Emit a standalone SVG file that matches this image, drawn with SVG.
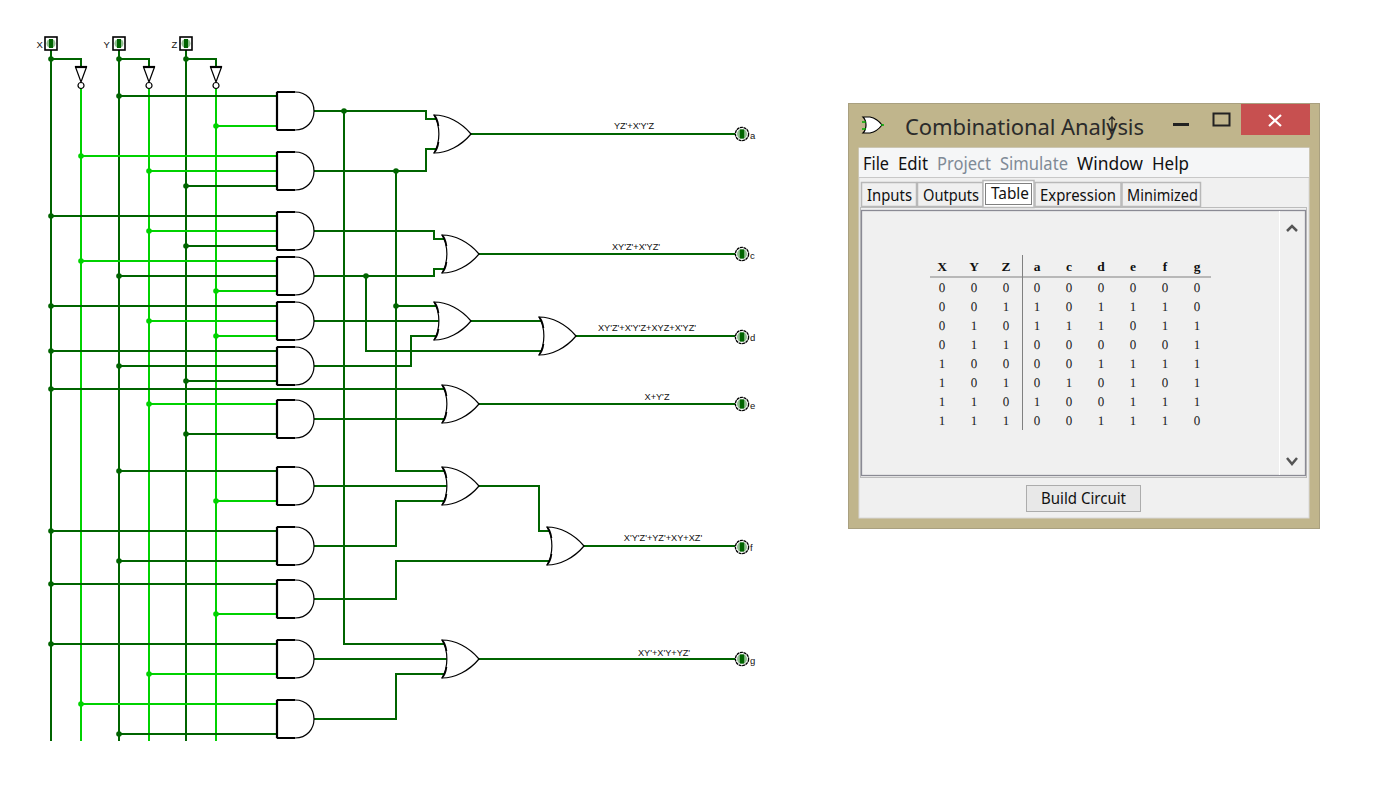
<svg xmlns="http://www.w3.org/2000/svg" width="1384" height="788" viewBox="0 0 1384 788">
<style>
.d{fill:none;stroke:#006400;stroke-width:2}
.l{fill:none;stroke:#00d200;stroke-width:2}
.jd{fill:#006400}
.jl{fill:#00d200}
.gate{fill:#fff;stroke:#000;stroke-width:1.2}
.edge{fill:none;stroke:#000;stroke-width:2.2}
.edge2{fill:none;stroke:#000;stroke-width:1.6}
.lbl{font-family:"Liberation Sans",Arial,sans-serif;font-size:9.200px;fill:#111;text-anchor:middle}
.pinl{font-family:"Liberation Sans",Arial,sans-serif;font-size:9.500px;fill:#111}
.ui{font-family:"Noto Sans","Open Sans",sans-serif;fill:#111}
.tab{font-size:16px;text-anchor:middle}
.menu{font-size:17.500px}
.off{fill:#7f8a96}
.tabbg{fill:#f0f0f0;stroke:#b8b8b8;stroke-width:1.500}
.th{font-family:"Liberation Serif",serif;font-weight:bold;font-size:13.500px;text-anchor:middle;fill:#111}
.td{font-family:"Liberation Serif",serif;font-size:13px;text-anchor:middle;fill:#222;stroke:#222;stroke-width:.05px;text-rendering:geometricPrecision}
</style>
<defs>
<g id="and"><path class="gate" d="M0,-19H18C30,-19 37,-10 37,0C37,10 30,19 18,19H0Z"/><path class="edge" d="M0,-19V19M0,-19H18M0,19H18"/></g>
<g id="or"><path class="gate" d="M-37,-19C-24,-19 -10,-12 0,0C-10,12 -24,19 -37,19C-30.500,8 -30.500,-8 -37,-19Z"/><path class="edge2" d="M-37,-19C-34,-16 -33,-12 -32.500,-8M-32.500,8C-33,12 -34,16 -37,19"/></g>
<g id="not"><path class="gate" d="M-5.500,-19L0,-4L5.500,-19Z"/><path class="edge" d="M-6,-19H6"/><circle class="gate" cx="0" cy="-0.500" r="3"/></g>
<g id="inp"><rect x="-6" y="-7" width="12" height="13" fill="#fff" stroke="#000" stroke-width="1.600"/><ellipse cx="0" cy="-0.500" rx="4.500" ry="4.500" fill="#8fbf8f"/><rect x="-2" y="-5" width="4" height="9" fill="#006400"/></g>
<g id="outp"><circle r="6.600" fill="#fff" stroke="#000" stroke-width="1.300" stroke-dasharray="3 .6"/><circle r="5" fill="#8fbf8f"/><rect x="-2.200" y="-4.500" width="4.400" height="9" fill="#006400"/></g>
</defs>

<g id="wires-and-connectors">
<path class="d" d="M51,50V741M119,50V741M186,50V741M51,59H81V67M119,59H149V67M186,59H216V67"/>
<path class="l" d="M81,88V741M149,88V741M216,88V741"/>
<path class="d" d="M119,96H277M186,186H277M51,216H277M186,246H277M119,276H277M51,306H277M51,351H277M119,366H277M186,381H277M186,434H277M119,471H277M51,531H277M119,561H277M51,584H277M51,644H277M119,734H277"/>
<path class="l" d="M216,126H277M81,156H277M149,171H277M149,231H277M81,261H277M216,291H277M149,321H277M216,336H277M149,404H277M216,501H277M216,614H277M149,674H277M81,704H277"/>
<path class="d" d="M51,389H444"/>
<path class="d" d="M313,111H426V119H436M313,171H426V149H436M344,111V644H444M396,171V471H444"/>
<path class="d" d="M470,134H735"/>
<path class="d" d="M313,231H434V239H444M313,276H434V269H444M478,254H735"/>
<path class="d" d="M366,276V351H541M396,306H436M313,321H439M313,366H411V336H436M470,321H541M575,336H735"/>
<path class="d" d="M313,419H444M478,404H735"/>
<path class="d" d="M313,486H447M313,546H396V501H444M478,486H539V531H549M313,599H396V561H549M583,546H735"/>
<path class="d" d="M313,659H447M313,719H396V674H444M478,659H735"/>
<g class="jd"><circle cx="51" cy="59" r="2.800"/><circle cx="119" cy="59" r="2.800"/><circle cx="186" cy="59" r="2.800"/><circle cx="119" cy="96" r="2.800"/><circle cx="186" cy="186" r="2.800"/><circle cx="51" cy="216" r="2.800"/><circle cx="186" cy="246" r="2.800"/><circle cx="119" cy="276" r="2.800"/><circle cx="51" cy="306" r="2.800"/><circle cx="51" cy="351" r="2.800"/><circle cx="119" cy="366" r="2.800"/><circle cx="186" cy="381" r="2.800"/><circle cx="51" cy="389" r="2.800"/><circle cx="186" cy="434" r="2.800"/><circle cx="119" cy="471" r="2.800"/><circle cx="51" cy="531" r="2.800"/><circle cx="119" cy="561" r="2.800"/><circle cx="51" cy="584" r="2.800"/><circle cx="51" cy="644" r="2.800"/><circle cx="119" cy="734" r="2.800"/><circle cx="344" cy="111" r="2.800"/><circle cx="396" cy="171" r="2.800"/><circle cx="366" cy="276" r="2.800"/><circle cx="396" cy="306" r="2.800"/></g>
<g class="jl"><circle cx="216" cy="126" r="2.800"/><circle cx="81" cy="156" r="2.800"/><circle cx="149" cy="171" r="2.800"/><circle cx="149" cy="231" r="2.800"/><circle cx="81" cy="261" r="2.800"/><circle cx="216" cy="291" r="2.800"/><circle cx="149" cy="321" r="2.800"/><circle cx="216" cy="336" r="2.800"/><circle cx="149" cy="404" r="2.800"/><circle cx="216" cy="501" r="2.800"/><circle cx="216" cy="614" r="2.800"/><circle cx="149" cy="674" r="2.800"/><circle cx="81" cy="704" r="2.800"/></g>
</g>

<g id="in-x"><use href="#inp" x="51" y="44"/><text class="pinl" x="36.500" y="48">X</text></g>
<g id="in-y"><use href="#inp" x="119" y="44"/><text class="pinl" x="103.500" y="48">Y</text></g>
<g id="in-z"><use href="#inp" x="186" y="44"/><text class="pinl" x="171.500" y="48">Z</text></g>
<g id="not-x"><use href="#not" x="81" y="86"/></g>
<g id="not-y"><use href="#not" x="149" y="86"/></g>
<g id="not-z"><use href="#not" x="216" y="86"/></g>

<g id="and1"><use href="#and" x="277" y="111"/></g>
<g id="and2"><use href="#and" x="277" y="171"/></g>
<g id="and3"><use href="#and" x="277" y="231"/></g>
<g id="and4"><use href="#and" x="277" y="276"/></g>
<g id="and5"><use href="#and" x="277" y="321"/></g>
<g id="and6"><use href="#and" x="277" y="366"/></g>
<g id="and7"><use href="#and" x="277" y="419"/></g>
<g id="and8"><use href="#and" x="277" y="486"/></g>
<g id="and9"><use href="#and" x="277" y="546"/></g>
<g id="and10"><use href="#and" x="277" y="599"/></g>
<g id="and11"><use href="#and" x="277" y="659"/></g>
<g id="and12"><use href="#and" x="277" y="719"/></g>

<g id="or-a"><use href="#or" x="471" y="134"/></g>
<g id="or-c"><use href="#or" x="479" y="254"/></g>
<g id="or-d1"><use href="#or" x="471" y="321"/></g>
<g id="or-d2"><use href="#or" x="576" y="336"/></g>
<g id="or-e"><use href="#or" x="479" y="404"/></g>
<g id="or-f1"><use href="#or" x="479" y="486"/></g>
<g id="or-f2"><use href="#or" x="584" y="546"/></g>
<g id="or-g"><use href="#or" x="479" y="659"/></g>

<g id="out-a"><use href="#outp" x="742" y="134"/><text class="pinl" x="750" y="138.500">a</text><text class="lbl" x="634" y="129">YZ'+X'Y'Z</text></g>
<g id="out-c"><use href="#outp" x="742" y="254"/><text class="pinl" x="750" y="258.500">c</text><text class="lbl" x="636" y="250">XY'Z'+X'YZ'</text></g>
<g id="out-d"><use href="#outp" x="742" y="337"/><text class="pinl" x="750" y="341">d</text><text class="lbl" x="647" y="331">XY'Z'+X'Y'Z+XYZ+X'YZ'</text></g>
<g id="out-e"><use href="#outp" x="742" y="404"/><text class="pinl" x="750" y="408.500">e</text><text class="lbl" x="657" y="400">X+Y'Z</text></g>
<g id="out-f"><use href="#outp" x="742" y="547"/><text class="pinl" x="750" y="551">f</text><text class="lbl" x="663" y="541">X'Y'Z'+YZ'+XY+XZ'</text></g>
<g id="out-g"><use href="#outp" x="742" y="659"/><text class="pinl" x="750" y="663.500">g</text><text class="lbl" x="664" y="656">XY'+X'Y+YZ'</text></g>

<g id="window">
<rect x="848.500" y="103.500" width="471" height="425" fill="#c0b58c" stroke="#a9a080"/>
<rect x="1241" y="104" width="69" height="31" fill="#c75050"/>
<path d="M1269,115L1281,126M1281,115L1269,126" fill="none" stroke="#fff" stroke-width="2.200"/>
<rect x="1173" y="123" width="16" height="3" fill="#222"/>
<rect x="1213.500" y="113.500" width="16" height="12" fill="none" stroke="#222" stroke-width="2"/>
<path d="M863,117H870C875,118 879,121 882,125C879,129 875,132 870,133H863C867,129 867,121 863,117Z" fill="#fff" stroke="#000" stroke-width="1.200"/>
<path d="M862,122H866M862,129H866M881,125H884" stroke="#0a0" stroke-width="1.500"/>
<text class="ui" x="905" y="135" font-size="22" style="fill:#2b2b2b" textLength="239">Combinational Analysis</text>
<path d="M1112,117V131M1109,120L1112,117L1115,120M1109,128L1112,131L1115,128" fill="none" stroke="#222" stroke-width="1.300"/>
<rect x="859" y="148" width="450" height="370" fill="#f0f0f0" stroke="#d8d8d8"/>
<rect x="859" y="148" width="450" height="29" fill="#f5f6f7"/>
<path d="M859,177.500H1309" stroke="#c8c8c8"/>
<g id="menu" class="ui menu">
<text x="863" y="170" textLength="26" lengthAdjust="spacingAndGlyphs">File</text><text x="898" y="170" textLength="30" lengthAdjust="spacingAndGlyphs">Edit</text><text x="937" y="170" class="off" textLength="54" lengthAdjust="spacingAndGlyphs">Project</text><text x="1000" y="170" class="off" textLength="68" lengthAdjust="spacingAndGlyphs">Simulate</text><text x="1077" y="170" textLength="66" lengthAdjust="spacingAndGlyphs">Window</text><text x="1152" y="170" textLength="37" lengthAdjust="spacingAndGlyphs">Help</text>
</g>
<g id="tabs" class="ui tab">
<rect class="tabbg" x="861.500" y="182.500" width="55" height="24"/><rect class="tabbg" x="917.500" y="182.500" width="65.500" height="24"/><rect class="tabbg" x="1035" y="182.500" width="86" height="24"/><rect class="tabbg" x="1122" y="182.500" width="78.500" height="24"/>
<rect x="983" y="180.500" width="51" height="27" fill="#fff" stroke="#b8b8b8" stroke-width="1.500"/>
<rect x="985.500" y="183.500" width="46" height="21" fill="none" stroke="#000" stroke-dasharray="1 1"/>
<text x="889.500" y="201" textLength="45" lengthAdjust="spacingAndGlyphs">Inputs</text><text x="951" y="201" textLength="56" lengthAdjust="spacingAndGlyphs">Outputs</text><text x="1010" y="199" textLength="38" lengthAdjust="spacingAndGlyphs">Table</text><text x="1078" y="201" textLength="76" lengthAdjust="spacingAndGlyphs">Expression</text><text x="1162.500" y="201" textLength="71" lengthAdjust="spacingAndGlyphs">Minimized</text>
</g>
<rect x="860.500" y="207.500" width="446" height="270" fill="none" stroke="#bcbcbc"/>
<rect x="861.500" y="210.500" width="444" height="265" fill="#f0f0f0" stroke="#8a8a94" stroke-width="1.300"/>
<path d="M1279.500,211V475" stroke="#fff"/>
<path d="M1287,231L1292,226L1297,231M1287,458L1292,464L1297,458" fill="none" stroke="#555" stroke-width="2.500"/>
<rect x="1026.500" y="485.500" width="114" height="26" fill="#e8e8e8" stroke="#acacac"/>
<text class="ui" x="1083.500" y="504" font-size="16" text-anchor="middle" textLength="85" lengthAdjust="spacingAndGlyphs">Build Circuit</text>
<g id="truth-table">
<path d="M930,277H1211M1022.500,255V430" stroke="#808080" fill="none"/>
<g class="th"><text x="942" y="271">X</text><text x="974" y="271">Y</text><text x="1006" y="271">Z</text><text x="1037" y="271">a</text><text x="1069" y="271">c</text><text x="1101" y="271">d</text><text x="1133" y="271">e</text><text x="1165" y="271">f</text><text x="1197" y="271">g</text></g>
<g class="td">
<text x="942" y="292">0</text><text x="974" y="292">0</text><text x="1006" y="292">0</text><text x="1037" y="292">0</text><text x="1069" y="292">0</text><text x="1101" y="292">0</text><text x="1133" y="292">0</text><text x="1165" y="292">0</text><text x="1197" y="292">0</text>
<text x="942" y="311">0</text><text x="974" y="311">0</text><text x="1006" y="311">1</text><text x="1037" y="311">1</text><text x="1069" y="311">0</text><text x="1101" y="311">1</text><text x="1133" y="311">1</text><text x="1165" y="311">1</text><text x="1197" y="311">0</text>
<text x="942" y="330">0</text><text x="974" y="330">1</text><text x="1006" y="330">0</text><text x="1037" y="330">1</text><text x="1069" y="330">1</text><text x="1101" y="330">1</text><text x="1133" y="330">0</text><text x="1165" y="330">1</text><text x="1197" y="330">1</text>
<text x="942" y="349">0</text><text x="974" y="349">1</text><text x="1006" y="349">1</text><text x="1037" y="349">0</text><text x="1069" y="349">0</text><text x="1101" y="349">0</text><text x="1133" y="349">0</text><text x="1165" y="349">0</text><text x="1197" y="349">1</text>
<text x="942" y="368">1</text><text x="974" y="368">0</text><text x="1006" y="368">0</text><text x="1037" y="368">0</text><text x="1069" y="368">0</text><text x="1101" y="368">1</text><text x="1133" y="368">1</text><text x="1165" y="368">1</text><text x="1197" y="368">1</text>
<text x="942" y="387">1</text><text x="974" y="387">0</text><text x="1006" y="387">1</text><text x="1037" y="387">0</text><text x="1069" y="387">1</text><text x="1101" y="387">0</text><text x="1133" y="387">1</text><text x="1165" y="387">0</text><text x="1197" y="387">1</text>
<text x="942" y="406">1</text><text x="974" y="406">1</text><text x="1006" y="406">0</text><text x="1037" y="406">1</text><text x="1069" y="406">0</text><text x="1101" y="406">0</text><text x="1133" y="406">1</text><text x="1165" y="406">1</text><text x="1197" y="406">1</text>
<text x="942" y="425">1</text><text x="974" y="425">1</text><text x="1006" y="425">1</text><text x="1037" y="425">0</text><text x="1069" y="425">0</text><text x="1101" y="425">1</text><text x="1133" y="425">1</text><text x="1165" y="425">1</text><text x="1197" y="425">0</text>
</g>
</g>
</g>
</svg>
